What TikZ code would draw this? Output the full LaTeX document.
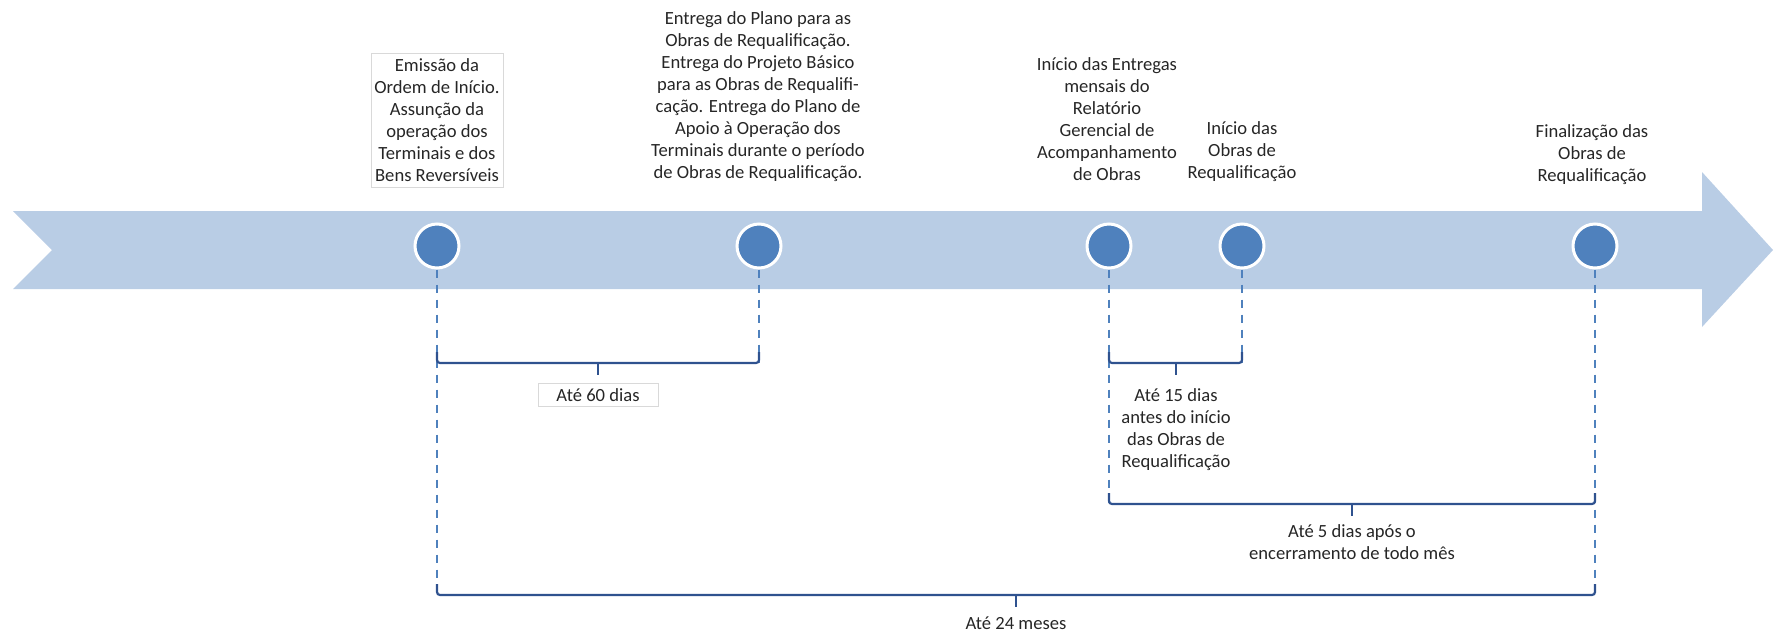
\documentclass[tikz,border=0pt]{standalone}
\usepackage{fontspec}
\setmainfont{Carlito}
\definecolor{arrowblue}{RGB}{185,205,229}
\definecolor{dotblue}{RGB}{79,129,189}
\definecolor{braceblue}{RGB}{47,82,143}
\definecolor{txt}{RGB}{38,38,38}
\definecolor{boxgray}{RGB}{217,217,217}
\begin{document}
\begin{tikzpicture}[x=0.5pt,y=-0.5pt,
  tl/.style={font=\fontsize{9.3}{11}\selectfont, align=center, inner sep=0pt, text=txt},
  dot/.style={circle, fill=dotblue, draw=white, line width=1.5pt, minimum size=22pt, inner sep=0pt},
  guide/.style={draw=dotblue, line width=1pt, dash pattern=on 4pt off 3.5pt},
  brace/.style={draw=braceblue, line width=1.1pt, rounded corners=1.5pt},
  gbox/.style={draw=boxgray, line width=0.5pt}
]
\useasboundingbox (0,0) rectangle (1774,633);
% timeline arrow
\fill[arrowblue] (13,211) -- (1702,211) -- (1702,172) -- (1773,250) -- (1702,327) -- (1702,289) -- (13,289) -- (52,250) -- cycle;

% milestone texts
\node[tl, gbox, minimum width=66pt, minimum height=67pt] (t1) at (437,120)
  {Emissão da\\Ordem de Início.\\Assunção da\\operação dos\\Terminais e dos\\Bens Reversíveis};
\node[tl] (t2) at (758,97)
  {Entrega do Plano para as\\Obras de Requalificação.\\Entrega do Projeto Básico\\para as Obras de Requalifi-\\cação. Entrega do Plano de\\Apoio à Operação dos\\Terminais durante o período\\de Obras de Requalificação.};
\node[tl] (t3) at (1107,119)
  {Início das Entregas\\mensais do\\Relatório\\Gerencial de\\Acompanhamento\\de Obras};
\node[tl] (t4) at (1242,152)
  {Início das\\Obras de\\Requalificação};
\node[tl] (t5) at (1592,155)
  {Finalização das\\Obras de\\Requalificação};

% bracket coordinates
\coordinate (b60l) at (437,363);
\coordinate (b60r) at (759,363);
\coordinate (b60m) at (598,363);
\coordinate (b15l) at (1109,363);
\coordinate (b15r) at (1242,363);
\coordinate (b15m) at (1176,363);
\coordinate (b5l) at (1109,504);
\coordinate (b5r) at (1595,504);
\coordinate (b5m) at (1352,504);
\coordinate (b24l) at (437,595);
\coordinate (b24r) at (1595,595);
\coordinate (b24m) at (1016,595);

% milestone dots
\node[dot] (c1) at (437,246) {};
\node[dot] (c2) at (759,246) {};
\node[dot] (c3) at (1109,246) {};
\node[dot] (c4) at (1242,246) {};
\node[dot] (c5) at (1595,246) {};

% dashed guides
\draw[guide] (c1.south) -- (b24l);
\draw[guide] (c2.south) -- (b60r);
\draw[guide] (c3.south) -- (b5l);
\draw[guide] (c4.south) -- (b15r);
\draw[guide] (c5.south) -- (b24r);

% brackets
\draw[brace] (b60l) ++(0,-11) -- (b60l) -- (b60r) -- ++(0,-11);
\draw[brace] (b60m) -- ++(0,12);
\draw[brace] (b15l) ++(0,-11) -- (b15l) -- (b15r) -- ++(0,-11);
\draw[brace] (b15m) -- ++(0,12);
\draw[brace] (b5l) ++(0,-11) -- (b5l) -- (b5r) -- ++(0,-11);
\draw[brace] (b5m) -- ++(0,12);
\draw[brace] (b24l) ++(0,-11) -- (b24l) -- (b24r) -- ++(0,-11);
\draw[brace] (b24m) -- ++(0,12);

% interval labels
\node[tl, gbox, minimum width=60pt, minimum height=11.5pt] (l60) at (598,395) {Até 60 dias};
\node[tl] (l15) at (1176,430) {Até 15 dias\\antes do início\\das Obras de\\Requalificação};
\node[tl] (l5) at (1352,542) {Até 5 dias após o\\encerramento de todo mês};
\node[tl] (l24) at (1016,623) {Até 24 meses};
\end{tikzpicture}
\end{document}
